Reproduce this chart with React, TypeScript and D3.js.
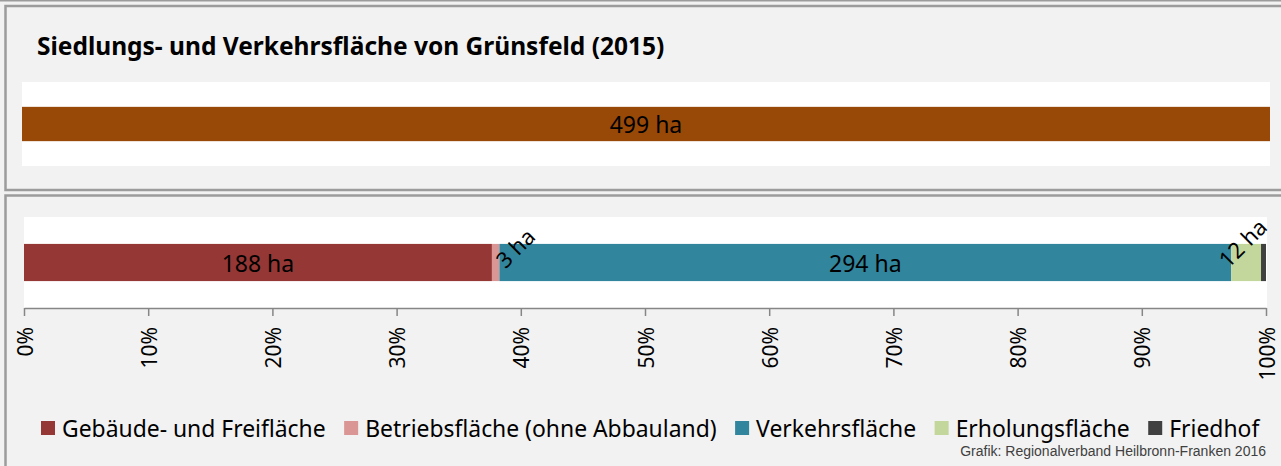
import React, { useRef, useEffect } from 'react';
import * as d3 from 'd3';

// Chart data
const chartTitle = 'Siedlungs- und Verkehrsfläche von Grünsfeld (2015)';
const totalValue = 499;
const totalColor = '#984807';

const categories = [
  'Gebäude- und Freifläche',
  'Betriebsfläche (ohne Abbauland)',
  'Verkehrsfläche',
  'Erholungsfläche',
  'Friedhof'
];
const values = [188, 3, 294, 12, 2];
const colors = ['#953735', '#DA9694', '#31859C', '#C3D69B', '#404040'];
// how each segment label is shown: inside the bar, rotated above it, or hidden
const labelModes = ['inside', 'rotated', 'inside', 'rotated', 'none'];
const tickValues = [0, 0.1, 0.2, 0.3, 0.4, 0.5, 0.6, 0.7, 0.8, 0.9, 1];
const credit = 'Grafik: Regionalverband Heilbronn-Franken 2016';

// nudges for the rotated labels (Excel places them off-centre)
const rotatedOffsets: Record<string, [number, number]> = {
  'Betriebsfläche (ohne Abbauland)': [19, -15],
  'Erholungsfläche': [-4, -20]
};

const FONT = '"Noto Sans", "Open Sans", sans-serif';

export default function App() {
  const svgRef = useRef<SVGSVGElement>(null);

  useEffect(() => {
    if (!svgRef.current) return;
    document.body.style.margin = '0';

    const width = 1281;
    const height = 466;
    const svg = d3.select(svgRef.current);
    svg.selectAll('*').remove();
    svg.attr('width', width).attr('height', height).style('font-family', FONT);

    svg.append('rect').attr('width', width).attr('height', height).attr('fill', '#F2F2F2');

    // panel frames
    const frame = '#9C9C9C';
    svg.append('line').attr('x1', 0).attr('x2', width).attr('y1', 0.5).attr('y2', 0.5)
      .attr('stroke', frame).attr('stroke-width', 2);
    svg.append('rect').attr('x', 5.5).attr('y', 6).attr('width', 1300).attr('height', 184)
      .attr('fill', 'none').attr('stroke', frame).attr('stroke-width', 2.5);
    svg.append('rect').attr('x', 5.5).attr('y', 195.5).attr('width', 1300).attr('height', 400)
      .attr('fill', 'none').attr('stroke', frame).attr('stroke-width', 2.5);

    // ---- top panel: total area ----
    svg.append('text')
      .attr('x', 37).attr('y', 55)
      .attr('font-size', 24.5).attr('font-weight', 'bold').attr('fill', '#000')
      .text(chartTitle);

    const xTop = d3.scaleLinear().domain([0, totalValue]).range([22, 1270]);
    const yTop = d3.scaleBand<string>().domain(['total']).range([82, 166]).padding(0.42);

    svg.append('rect').attr('x', 22).attr('y', 82).attr('width', 1248).attr('height', 84).attr('fill', '#fff');
    svg.append('rect')
      .attr('x', xTop(0)).attr('y', yTop('total')!)
      .attr('width', xTop(totalValue) - xTop(0)).attr('height', yTop.bandwidth())
      .attr('fill', totalColor);
    svg.append('text')
      .attr('x', (xTop(0) + xTop(totalValue)) / 2)
      .attr('y', yTop('total')! + yTop.bandwidth() / 2)
      .attr('text-anchor', 'middle').attr('dominant-baseline', 'central')
      .attr('font-size', 23).attr('fill', '#000')
      .text(`${totalValue} ha`);

    // ---- bottom panel: shares ----
    const sum = d3.sum(values);
    const x = d3.scaleLinear().domain([0, 1]).range([24, 1266]);
    const y = d3.scaleBand<string>().domain(['share']).range([217, 308]).padding(0.42);

    svg.append('rect').attr('x', 24).attr('y', 217).attr('width', 1243).attr('height', 91).attr('fill', '#fff');

    let acc = 0;
    const segs = values.map((v, i) => {
      const s = { name: categories[i], value: v, color: colors[i], mode: labelModes[i], x0: acc / sum, x1: (acc + v) / sum };
      acc += v;
      return s;
    });

    const yb = y('share')!;
    const bh = y.bandwidth();
    svg.append('g').selectAll('rect')
      .data(segs)
      .join('rect')
      .attr('x', d => x(d.x0))
      .attr('y', yb)
      .attr('width', d => x(d.x1) - x(d.x0))
      .attr('height', bh)
      .attr('fill', d => d.color);

    // axis
    const axis = d3.axisBottom(x)
      .tickValues(tickValues)
      .tickFormat(d3.format('.0%'))
      .tickSize(8)
      .tickSizeOuter(0);
    const ax = svg.append('g').attr('transform', `translate(0,${y.range()[1]})`).call(axis);
    ax.select('.domain').attr('stroke', '#868686').attr('stroke-width', 1.5);
    ax.selectAll('.tick line').attr('stroke', '#868686').attr('stroke-width', 1.5);
    ax.selectAll('.tick text')
      .attr('transform', 'rotate(-90)')
      .attr('x', -19).attr('y', 0).attr('dy', null)
      .attr('text-anchor', 'end')
      .attr('dominant-baseline', 'central')
      .attr('font-size', 21)
      .attr('font-family', FONT)
      .attr('fill', '#000');

    // segment labels
    const lab = svg.append('g').attr('font-size', 23).attr('fill', '#000');
    segs.filter(d => d.mode === 'inside').forEach(d => {
      lab.append('text')
        .attr('x', (x(d.x0) + x(d.x1)) / 2)
        .attr('y', yb + bh / 2)
        .attr('text-anchor', 'middle').attr('dominant-baseline', 'central')
        .text(`${d.value} ha`);
    });
    segs.filter(d => d.mode === 'rotated').forEach(d => {
      const [dx, dy] = rotatedOffsets[d.name] || [0, 0];
      const cx = (x(d.x0) + x(d.x1)) / 2 + dx;
      const cy = yb + bh / 2 + dy;
      lab.append('text')
        .attr('transform', `translate(${cx},${cy}) rotate(-45)`)
        .attr('text-anchor', 'middle').attr('dominant-baseline', 'central')
        .attr('font-size', 22)
        .text(`${d.value} ha`);
    });

    // legend laid out left to right
    const legend = svg.append('g').attr('font-size', 22.9);
    let lx = 41;
    const ly = 428;
    segs.forEach(d => {
      legend.append('rect')
        .attr('x', lx).attr('y', ly - 7).attr('width', 14).attr('height', 14)
        .attr('fill', d.color);
      const t = legend.append('text')
        .attr('x', lx + 21).attr('y', ly)
        .attr('dominant-baseline', 'central')
        .attr('fill', '#000')
        .text(d.name);
      const w = (t.node() as SVGTextElement).getComputedTextLength();
      lx += 21 + w + 18.5;
    });

    svg.append('text')
      .attr('x', 1266).attr('y', 456)
      .attr('text-anchor', 'end')
      .attr('font-family', '"Liberation Sans", Arial, sans-serif')
      .attr('font-size', 14).attr('fill', '#404040')
      .text(credit);
  }, []);

  return (
    <div style={{ position: 'absolute', left: 0, top: 0 }}>
      <svg ref={svgRef} role="img" aria-label={chartTitle} />
    </div>
  );
}
